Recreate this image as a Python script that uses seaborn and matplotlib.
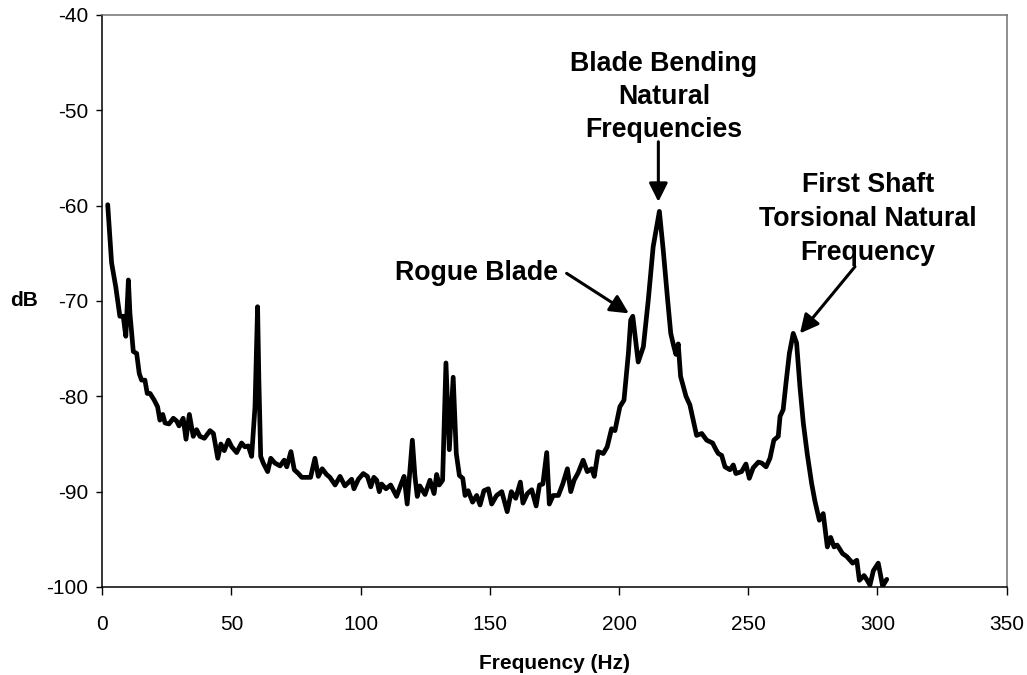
import numpy as np
import pandas as pd
import seaborn as sns
import matplotlib.pyplot as plt

# spectrum
freq = [2.1, 3.6, 5.2, 6.8, 8.1, 9.1, 10.1, 10.7, 12.0, 13.3, 14.3, 15.2, 16.5, 17.4, 18.5,
        20.1, 21.4, 22.3, 23.4, 24.3, 25.8, 27.5, 28.8, 29.7, 31.3, 32.4, 33.7, 35.2, 36.5,
        37.8, 39.5, 41.7, 43.0, 44.7, 45.9, 47.2, 48.8, 50.1, 52.0, 53.9, 55.2, 56.5, 57.8,
        59.1, 60.1, 60.6, 61.3, 62.3, 64.0, 65.2, 66.8, 68.8, 70.4, 71.4, 73.0, 74.3,
        75.9, 77.2, 78.8, 80.6, 82.3, 83.6, 85.1, 86.8, 88.1, 90.1, 92.0, 93.9, 96.5, 97.4,
        99.1, 101.0, 102.6, 103.9, 105.1, 106.2, 107.2, 108.1, 109.8, 111.6, 113.9, 115.5,
        116.8, 118.0, 120.0, 121.0, 121.9, 122.9, 124.9, 126.8, 128.4, 129.4, 130.4, 131.7,
        133.0, 134.3, 135.8, 137.0, 138.2, 139.5, 140.4, 141.6, 143.3, 144.9, 146.2, 147.7,
        149.4, 150.7, 152.6, 154.6, 156.7, 158.3, 160.0, 161.8, 162.8, 164.5, 166.2, 167.9,
        169.2, 170.5, 172.0, 173.0, 174.5, 176.5, 178.2, 180.0, 181.3, 182.6, 184.2, 186.1,
        187.7, 189.4, 190.4, 191.9, 193.9, 195.4, 197.1, 198.4, 200.3, 201.9, 203.6, 204.5,
        205.3, 207.4, 209.4, 211.3, 213.2, 215.6, 217.1, 218.7, 220.0, 221.2, 222.0, 222.9,
        223.8, 225.9, 227.4, 228.7, 230.0, 232.0, 233.9, 236.2, 237.5, 238.4, 239.7, 241.0,
        242.9, 244.2, 245.2, 247.4, 249.1, 250.4, 251.9, 253.9, 255.2, 256.9, 258.4, 259.9,
        261.6, 262.3, 263.5, 264.6, 265.9, 267.4, 268.7, 270.0, 271.3, 272.8, 274.5, 275.8,
        277.5, 279.0, 280.6, 281.9, 283.2, 284.4, 286.5, 288.1, 290.4, 292.0, 293.0, 294.8,
        295.8, 297.1, 298.4, 300.3, 302.0, 303.6]
db = [-59.9, -66.0, -68.5, -71.6, -71.6, -73.7, -67.8, -71.3, -75.3, -75.5, -77.6, -78.3,
      -78.3, -79.7, -79.7, -80.4, -81.1, -82.5, -81.9, -82.8, -82.9, -82.3, -82.6, -83.1,
      -82.3, -84.5, -81.9, -84.2, -83.5, -84.2, -84.4, -83.6, -83.9, -86.5, -85.0, -85.7,
      -84.6, -85.3, -85.9, -84.9, -85.3, -85.2, -86.3, -81.1, -70.6, -78.3, -86.3, -87.0,
      -87.9, -86.5, -87.0, -87.3, -86.7, -87.4, -85.8, -87.7,
      -88.1, -88.5, -88.5, -88.5, -86.5, -88.4, -87.6, -88.2, -88.5, -89.3, -88.4, -89.4,
      -88.7, -89.7, -88.7, -88.1, -88.4, -89.5, -88.5, -88.8, -90.0, -89.2, -89.7, -89.3,
      -90.5, -89.3, -88.4, -91.3, -84.6, -88.4, -90.5, -89.4, -90.3, -88.8, -90.2, -88.2,
      -89.3, -88.8, -76.5, -85.6, -78.0, -86.0, -88.3, -88.6, -90.4, -89.9, -91.1, -90.4,
      -91.4, -89.9, -89.7, -91.3, -90.4, -90.0, -92.1, -90.0, -90.7, -89.0, -91.2, -90.2,
      -89.8, -91.5, -89.3, -89.2, -85.9, -91.3, -90.4, -90.4, -89.2, -87.6, -90.0, -88.8,
      -88.0, -86.7, -87.9, -87.6, -88.4, -85.8, -86.0, -85.3, -83.4, -83.6, -81.1, -80.4,
      -75.5, -72.0, -71.6, -76.4, -74.8, -69.9, -64.3, -60.6, -64.7, -69.6, -73.4, -74.8,
      -75.6, -74.5, -77.9, -80.0, -80.9, -82.5, -84.1, -83.9, -84.6, -84.9, -85.6, -86.0,
      -86.2, -87.4, -87.7, -87.2, -88.1, -87.9, -87.1, -88.6, -87.5, -86.9, -87.0, -87.4,
      -86.5, -84.6, -84.2, -82.1, -81.4, -78.6, -75.5, -73.4, -74.4, -79.0, -82.8, -86.0,
      -89.1, -91.0, -93.0, -92.3, -95.8, -94.8, -95.8, -95.6, -96.5, -96.8, -97.5, -97.2,
      -99.3, -98.8, -99.2, -99.8, -98.3, -97.5, -99.9, -99.2]

df = pd.DataFrame({'Frequency': freq, 'dB': db})

sns.set_style("ticks")
plt.rcParams['font.family'] = ['Liberation Sans', 'DejaVu Sans']
plt.rcParams['axes.unicode_minus'] = False
plt.rcParams['text.color'] = 'black'
plt.rcParams['axes.labelcolor'] = 'black'
plt.rcParams['xtick.color'] = 'black'
plt.rcParams['ytick.color'] = 'black'

fig = plt.figure(figsize=(10.27, 6.75), dpi=100)
ax = fig.add_axes([0.0996, 0.1304, 0.8806, 0.8474])

sns.lineplot(x='Frequency', y='dB', data=df, color='black', linewidth=3.4, ax=ax,
             sort=False, estimator=None)

ax.set_xlim(0, 350)
ax.set_ylim(-100, -40)
ax.set_xticks(range(0, 351, 50))
ax.set_yticks(range(-100, -39, 10))
ax.tick_params(axis='x', direction='out', length=6, width=1, pad=14, labelsize=15)
ax.tick_params(axis='y', direction='out', length=4, width=1, pad=6, labelsize=15)

for s in ['left', 'bottom']:
    ax.spines[s].set_color('black')
    ax.spines[s].set_linewidth(1.1)
for s in ['top', 'right']:
    ax.spines[s].set_color('#707070')
    ax.spines[s].set_linewidth(1.1)

ax.set_xlabel('Frequency (Hz)', fontsize=15, fontweight='bold', va='center')
ax.xaxis.set_label_coords(0.5, -0.133)
ax.set_ylabel('dB', fontsize=15, fontweight='bold', rotation=0, va='center', ha='center')
ax.yaxis.set_label_coords(-0.087, 0.5)

arrow = dict(arrowstyle='-|>', color='black', lw=2.2, mutation_scale=28,
             shrinkA=0, shrinkB=0)

ax.annotate('Blade Bending\nNatural\nFrequencies', xy=(215.2, -59.6), xytext=(217.4, -48.6),
            ha='center', va='center', fontsize=19.3, fontweight='bold', linespacing=1.37)
ax.annotate('', xy=(215.2, -59.6), xytext=(215.2, -53.3), arrowprops=arrow)

ax.annotate('Rogue Blade', xy=(203.8, -71.3), xytext=(176.4, -67.1),
            ha='right', va='center', fontsize=19.3, fontweight='bold')
ax.annotate('', xy=(203.8, -71.3), xytext=(179.7, -67.1), arrowprops=arrow)

ax.annotate('First Shaft\nTorsional Natural\nFrequency', xy=(270.0, -73.4), xytext=(296.3, -61.4),
            ha='center', va='center', fontsize=19.3, fontweight='bold', linespacing=1.41)
ax.annotate('', xy=(270.0, -73.4), xytext=(291.3, -66.4), arrowprops=arrow)

plt.savefig('out.png', dpi=100)
